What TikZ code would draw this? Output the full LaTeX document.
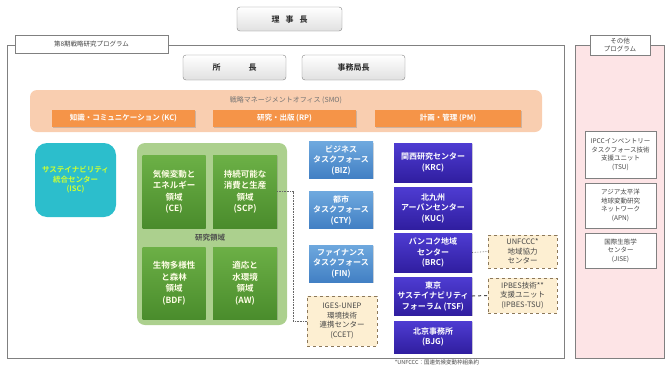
\documentclass[tikz,border=0pt]{standalone}
\usepackage{fontspec}
\setmainfont{Noto Sans CJK JP}[BoldFont={Noto Sans CJK JP Bold}]
\usetikzlibrary{shadows}
\definecolor{frameg}{RGB}{128,128,128}
\definecolor{smob}{RGB}{249,206,176}
\definecolor{orng}{RGB}{245,148,72}
\definecolor{teal1}{RGB}{44,190,204}
\definecolor{isctxt}{RGB}{204,255,51}
\definecolor{gpanel}{RGB}{172,208,142}
\definecolor{gtop}{RGB}{108,176,70}
\definecolor{gbot}{RGB}{74,140,44}
\definecolor{btop}{RGB}{110,168,222}
\definecolor{bbot}{RGB}{66,128,196}
\definecolor{itop}{RGB}{78,60,210}
\definecolor{ibot}{RGB}{48,30,160}
\definecolor{dfill}{RGB}{253,239,210}
\definecolor{dline}{RGB}{140,120,90}
\definecolor{pinkf}{RGB}{253,228,230}
\definecolor{txtg}{RGB}{70,70,70}
\tikzset{
  greybox/.style={draw=frameg, rounded corners=3pt, top color=white, bottom color=black!12, minimum width=#1, minimum height=25, font=\bfseries\fontsize{8}{10}\selectfont, text=black!85},
  orbar/.style={fill=orng, minimum width=#1, minimum height=17, font=\bfseries\fontsize{7.5}{9}\selectfont, text=white, drop shadow={opacity=0.35, shadow xshift=0.8pt, shadow yshift=-0.8pt}},
  gbox/.style={top color=gtop, bottom color=gbot, minimum width=#1, minimum height=73, align=center, font=\bfseries\fontsize{8.5}{11.5}\selectfont, text=white!90!yellow, drop shadow={opacity=0.3, shadow xshift=0.8pt, shadow yshift=-0.8pt}},
  bbox/.style={top color=btop, bottom color=bbot, minimum width=64, minimum height=#1, align=center, font=\bfseries\fontsize{8}{10.5}\selectfont, text=white, drop shadow={opacity=0.3, shadow xshift=0.8pt, shadow yshift=-0.8pt}},
  ibox/.style={top color=itop, bottom color=ibot, minimum width=78, minimum height=#1, align=center, font=\bfseries\fontsize{8}{10.5}\selectfont, text=white, drop shadow={opacity=0.3, shadow xshift=0.8pt, shadow yshift=-0.8pt}},
  dbox/.style={draw=dline, dashed, line width=0.9pt, fill=dfill, minimum width=69, minimum height=#1, align=center, font=\fontsize{7.5}{9.5}\selectfont, text=txtg},
  wbox/.style={draw=frameg, fill=white, minimum width=71, minimum height=#1, align=center, font=\fontsize{6.5}{8.5}\selectfont, text=txtg},
  conn/.style={draw=black!60, densely dotted, line width=0.6pt},
}
\begin{document}
\begin{tikzpicture}[x=1pt,y=-1pt]
\useasboundingbox (0,0) rectangle (669,367);
% chair
\node[greybox=105, minimum height=24] (chair) at (289.5,19) {理\hspace{6pt}事\hspace{6pt}長};
% main frame
\draw[frameg, line width=0.7pt] (7,45) rectangle (564,358);
\node[draw=frameg, fill=white, minimum width=153, minimum height=18, font=\fontsize{6.5}{8}\selectfont, text=txtg] (tab) at (91.5,44) {第8期戦略研究プログラム};
% directors
\node[greybox=103] (pres) at (234.5,67.5) {所\hspace{28pt}長};
\node[greybox=103] (sg) at (353.5,67.5) {事務局長};
% SMO
\fill[smob, rounded corners=7pt] (30,90) rectangle (542,132);
\node[font=\fontsize{7}{9}\selectfont, text=black!55] (smo) at (286,100) {戦略マネージメントオフィス (SMO)};
\node[orbar=143] (kc) at (123.5,118.5) {知識・コミュニケーション (KC)};
\node[orbar=143] (rp) at (284.5,118.5) {研究・出版 (RP)};
\node[orbar=146] (pm) at (448,118.5) {計画・管理 (PM)};
% ISC
\node[fill=teal1, rounded corners=12pt, minimum width=81, minimum height=74, align=center, font=\bfseries\fontsize{7.5}{9.5}\selectfont, text=isctxt] (isc) at (75.5,180) {サステイナビリティ\\統合センター\\(ISC)};
% research areas
\fill[gpanel, rounded corners=8pt] (137,143) rectangle (287,325);
\node[gbox=63] (ce) at (174,191.5) {気候変動と\\エネルギー\\領域\\(CE)};
\node[gbox=64] (scp) at (245,191.5) {持続可能な\\消費と生産\\領域\\(SCP)};
\node[font=\bfseries\fontsize{7.5}{9}\selectfont, text=black!70] (ra) at (210,237.5) {研究領域};
\node[gbox=63, minimum height=72] (bdf) at (174,283) {生物多様性\\と森林\\領域\\(BDF)};
\node[gbox=64, minimum height=72] (aw) at (245,283) {適応と\\水環境\\領域\\(AW)};
% task forces
\node[bbox=35] (biz) at (341,160) {ビジネス\\タスクフォース\\(BIZ)};
\node[bbox=36] (cty) at (341,210) {都市\\タスクフォース\\(CTY)};
\node[bbox=37] (fin) at (341,263.5) {ファイナンス\\タスクフォース\\(FIN)};
\node[dbox=50, minimum width=70] (ccet) at (342,321) {IGES-UNEP\\環境技術\\連携センター\\(CCET)};
% centres
\node[ibox=39] (krc) at (433,162.5) {関西研究センター\\(KRC)};
\node[ibox=42] (kuc) at (433,208) {北九州\\アーバンセンター\\(KUC)};
\node[ibox=39] (brc) at (433,252.5) {バンコク地域\\センター\\(BRC)};
\node[ibox=38] (tsf) at (433,296) {東京\\サステイナビリティ\\フォーラム (TSF)};
\node[ibox=32] (bjg) at (433,337) {北京事務所\\(BJG)};
\node[dbox=33] (unf) at (522.5,251.5) {UNFCCC*\\地域協力\\センター};
\node[dbox=35] (ipb) at (522.5,295.5) {IPBES技術**\\支援ユニット\\(IPBES-TSU)};
% connectors
\draw[conn] (scp.east) -- ++(16,0) |- (ccet.west);
\draw[conn] (brc.east) -- (unf.west);
\draw[draw=black!70, dashed, line width=1pt] (tsf.east) -- (ipb.west);
% other programmes
\draw[frameg, fill=pinkf, line width=0.7pt] (575,45) rectangle (664,358);
\node[draw=frameg, fill=white, minimum width=60, minimum height=20, align=center, font=\fontsize{6.5}{7.5}\selectfont, text=txtg] (otab) at (620,45) {その他\\プログラム};
\node[wbox=47] (tsu) at (620.5,154.5) {IPCCインベントリー\\タスクフォース技術\\支援ユニット\\(TSU)};
\node[wbox=45] (apn) at (620.5,205.5) {アジア太平洋\\地球変動研究\\ネットワーク\\(APN)};
\node[wbox=35] (jise) at (620.5,250.5) {国際生態学\\センター\\(JISE)};
% footnote
\node[font=\fontsize{5.5}{6}\selectfont, text=txtg, inner sep=0.5pt] (fn) at (437,362.5) {*UNFCCC：国連気候変動枠組条約};
\end{tikzpicture}
\end{document}
